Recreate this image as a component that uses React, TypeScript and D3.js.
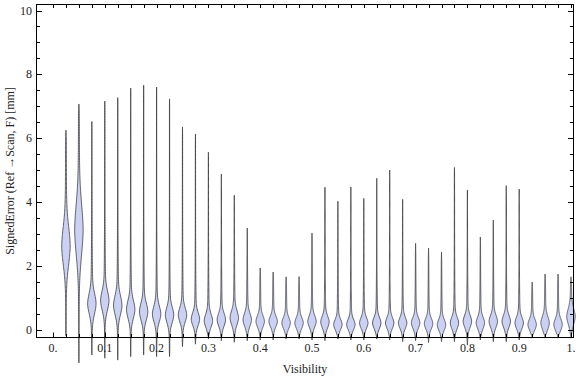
import React from "react";
import * as d3 from "d3";

// ---- data ----
const positions = [
  0.025, 0.05, 0.075, 0.1, 0.125, 0.15, 0.175, 0.2, 0.225, 0.25,
  0.275, 0.3, 0.325, 0.35, 0.375, 0.4, 0.425, 0.45, 0.475, 0.5,
  0.525, 0.55, 0.575, 0.6, 0.625, 0.65, 0.675, 0.7, 0.725, 0.75,
  0.775, 0.8, 0.825, 0.85, 0.875, 0.9, 0.925, 0.95, 0.975, 1.0,
];
const maxVals = [
  6.25, 7.07, 6.52, 7.16, 7.27, 7.57, 7.66, 7.6, 7.23, 6.35,
  6.13, 5.56, 4.87, 4.21, 3.18, 1.93, 1.8, 1.65, 1.66, 3.02,
  4.46, 4.02, 4.47, 4.11, 4.74, 5.0, 4.08, 2.7, 2.55, 2.43,
  5.08, 4.37, 2.9, 3.43, 4.51, 4.4, 1.49, 1.74, 1.74, 1.65,
];
const minVals = [
  -0.2, -1.05, -0.8, -0.9, -0.96, -0.85, -0.8, -0.85, -0.85, -0.54,
  -0.46, -0.3, -0.35, -0.4, -0.35, -0.33, -0.33, -0.3, -0.3, -0.33,
  -0.35, -0.3, -0.33, -0.33, -0.3, -0.33, -0.38, -0.35, -0.41, -0.38,
  -0.38, -0.49, -0.33, -0.38, -0.38, -0.33, -0.27, -0.27, -0.27, -0.27,
];
const modes = [
  2.6, 3.1, 0.8, 0.9, 0.75, 0.62, 0.55, 0.48, 0.45, 0.45,
  0.32, 0.27, 0.3, 0.36, 0.3, 0.25, 0.25, 0.2, 0.2, 0.25,
  0.23, 0.15, 0.15, 0.2, 0.2, 0.2, 0.2, 0.2, 0.18, 0.14,
  0.2, 0.25, 0.2, 0.25, 0.25, 0.2, 0.15, 0.2, 0.15, 0.4,
];
const spreads = [
  0.6, 0.8, 0.32, 0.3, 0.3, 0.28, 0.26, 0.25, 0.24, 0.22,
  0.2, 0.2, 0.2, 0.22, 0.2, 0.18, 0.17, 0.17, 0.17, 0.18,
  0.18, 0.16, 0.16, 0.17, 0.17, 0.17, 0.17, 0.17, 0.17, 0.17,
  0.18, 0.19, 0.18, 0.19, 0.19, 0.18, 0.17, 0.2, 0.18, 0.25,
];
const xTickLabels = ["0.", "0.1", "0.2", "0.3", "0.4", "0.5", "0.6", "0.7", "0.8", "0.9", "1."];
const xTickValues = [0, 0.1, 0.2, 0.3, 0.4, 0.5, 0.6, 0.7, 0.8, 0.9, 1.0];
const yTickValues = [0, 2, 4, 6, 8, 10];
const xLabel = "Visibility";
const yLabel = "SignedError (Ref →Scan, F) [mm]";

const W = 576;
const H = 377;
const frame = { left: 36.5, right: 573.5, top: 4.5, bottom: 337.5 };
const FONT = "'Liberation Serif', 'Times New Roman', serif";

export default function App() {
  const x = d3.scaleLinear().domain([0, 1]).range([53, 571]);
  const y = d3.scaleLinear().domain([0, 10]).range([329.5, 10.5]);
  const halfW = 3.2;

  const area = d3
    .area<{ v: number; w: number; cx: number }>()
    .y((d) => y(d.v))
    .x0((d) => d.cx - d.w)
    .x1((d) => d.cx + d.w)
    .curve(d3.curveBasis);

  const violins = positions.map((p, i) => {
    const lo = minVals[i];
    const hi = maxVals[i];
    const m = modes[i];
    const s = spreads[i];
    const cx = x(p);
    const n = 160;
    const pts = d3.range(n + 1).map((k) => {
      const v = lo + ((hi - lo) * k) / n;
      const z = (v - m) / s;
      const core = Math.exp(-0.5 * z * z);
      const lam = v > m ? 3.5 * s + 0.4 : 1.5 * s + 0.1;
      const tail = 0.3 * Math.exp(-Math.abs(v - m) / lam);
      const endTaper = Math.min(1, (hi - v) / 0.3, (v - lo) / 0.15);
      const w = halfW * (core + tail + 0.03) * Math.max(0, endTaper);
      return { v, w, cx };
    });
    return area(pts) || "";
  });

  const xMinor = d3.range(0, 41).map((k) => k * 0.025);
  const yMinor = d3.range(0, 21).map((k) => k * 0.5);

  return (
    <svg width={W} height={H} style={{ display: "block", position: "absolute", left: 0, top: 0 }}>
      <rect x={0} y={0} width={W} height={H} fill="white" />
      {violins.map((d, i) => (
        <path
          key={i}
          d={d}
          fill="#cbd1f5"
          stroke="#333"
          strokeOpacity={0.75}
          strokeWidth={1}
        />
      ))}
      {/* frame */}
      <rect
        x={frame.left}
        y={frame.top}
        width={frame.right - frame.left}
        height={frame.bottom - frame.top}
        fill="none"
        stroke="black"
        strokeWidth={1}
      />
      {/* x ticks bottom & top */}
      {xMinor.map((v, i) => {
        const major = xTickValues.some((t) => Math.abs(t - v) < 1e-9);
        const len = major ? 5 : 3.5;
        const xx = Math.round(x(v)) + 0.5;
        return (
          <g key={"xt" + i}>
            <line x1={xx} x2={xx} y1={frame.bottom} y2={frame.bottom - len} stroke="black" />
            <line x1={xx} x2={xx} y1={frame.top} y2={frame.top + 3.5} stroke="black" />
          </g>
        );
      })}
      {/* y ticks left & right */}
      {yMinor.map((v, i) => {
        const major = yTickValues.some((t) => Math.abs(t - v) < 1e-9);
        const len = major ? 5.5 : 3.5;
        const yy = Math.round(y(v)) + 0.5;
        return (
          <g key={"yt" + i}>
            <line x1={frame.left} x2={frame.left + len} y1={yy} y2={yy} stroke="black" />
            <line x1={frame.right} x2={frame.right - len} y1={yy} y2={yy} stroke="black" />
          </g>
        );
      })}
      {xTickValues.map((v, i) => (
        <text
          key={"xl" + i}
          x={x(v)}
          y={352}
          textAnchor="middle"
          fontFamily={FONT}
          fontSize={12}
          fill="#222"
        >
          {xTickLabels[i]}
        </text>
      ))}
      {yTickValues.map((v, i) => (
        <text
          key={"yl" + i}
          x={32}
          y={y(v) + 4}
          textAnchor="end"
          fontFamily={FONT}
          fontSize={12}
          fill="#222"
        >
          {String(v)}
        </text>
      ))}
      <text x={305} y={373} textAnchor="middle" fontFamily={FONT} fontSize={12} fill="#222">
        {xLabel}
      </text>
      <text
        transform={`translate(14, ${(frame.top + frame.bottom) / 2}) rotate(-90)`}
        textAnchor="middle"
        fontFamily={FONT}
        fontSize={12}
        fill="#222"
      >
        {yLabel}
      </text>
    </svg>
  );
}
